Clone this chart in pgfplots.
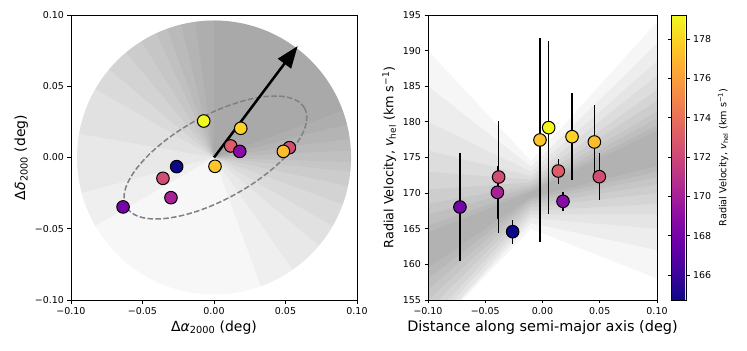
\documentclass[border=0pt]{standalone}
\usepackage{fontspec}
\setmainfont{DejaVu Sans}
\usepackage{pgfplots}
\usepackage{pgfplotstable}
\pgfplotsset{compat=1.18}
\usetikzlibrary{arrows.meta}

\pgfplotsset{colormap={plasma}{rgb255=(13,8,135) rgb255=(65,4,157) rgb255=(106,0,168)
  rgb255=(143,13,164) rgb255=(177,42,144) rgb255=(204,71,120) rgb255=(225,100,98)
  rgb255=(242,132,75) rgb255=(252,166,54) rgb255=(252,206,37) rgb255=(240,249,33)}}

% sky positions (deg) and velocities (km/s)
\pgfplotstableread{
ra       dec       v
-0.0636  -0.0347   168.05
-0.0301  -0.0282   170.11
-0.0357  -0.0146   172.26
-0.0261  -0.0064   164.59
 0.0007  -0.0062   177.46
-0.0072   0.0256   179.19
 0.0117   0.0081   173.10
 0.0180   0.0043   168.85
 0.0187   0.0205   177.92
 0.0527   0.0069   172.31
 0.0485   0.0043   177.18
}\posdata

% distance along semi-major axis, velocity, error
\pgfplotstableread{
d        v        err
-0.0721  168.05   7.6
-0.0383  172.26   7.8
-0.0394  170.11   3.75
-0.0261  164.59   1.7
-0.0022  177.46   14.3
 0.0054  179.19   12.1
 0.0138  173.10   1.75
 0.0179  168.85   1.3
 0.0258  177.92   6.1
 0.0453  177.18   5.2
 0.0496  172.31   3.3
}\veldata

% envelopes of the linear-fit samples: x=-0.1, waist, x=0.1 (upper), then x=0.1, waist, x=-0.1 (lower)
\pgfplotstableread{
hiL    hiW    hiR    loR    loW    loL
190    174.5  194    158    165    150
185    173.7  191    162    165.8  150
180    173    188.5  165    166.5  150
176    172.4  186.5  167    167    151
173    171.9  184.5  168.5  167.5  152
170.5  171.5  183    170    168    153.5
168.5  171.1  181.5  171.2  168.4  155
167    170.8  180.5  172.2  168.8  156.5
165.5  170.5  179.5  173    169.1  158
164.5  170.2  178.8  173.8  169.4  159.5
}\fitband

\newcommand{\tickfont}{\fontsize{9.5}{11}\selectfont}

\begin{document}
\begin{tikzpicture}
\useasboundingbox (0,0) rectangle (747bp,351bp);

% fan of position-angle samples, behind the left axis (axis origin at 214bp,193.5bp)
\begin{scope}[shift={(214bp,193.5bp)}]
\fill[black, fill opacity=0.032] (0,0) circle[radius=137bp];
\foreach \a/\b in {-70/210, -55/195, -40/170, -30/150, -20/140, -12/130,
                   -6/122, -2/115, 3/110, 8/104, 14/98, 20/90}
  \fill[black, fill opacity=0.032] (0,0) -- (\a:137bp) arc[start angle=\a, end angle=\b, radius=137bp] -- cycle;
\end{scope}

%---------------- left panel: positions ----------------
\begin{axis}[
  at={(71bp,51bp)}, anchor=south west,
  scale only axis, width=286bp, height=285bp,
  xmin=-0.1, xmax=0.1, ymin=-0.1, ymax=0.1,
  xtick={-0.1,-0.05,0,0.05,0.1}, ytick={-0.1,-0.05,0,0.05,0.1},
  xticklabels={−0.10,−0.05,0.00,0.05,0.10},
  yticklabels={−0.10,−0.05,0.00,0.05,0.10},
  tick pos=left, tick align=outside, major tick length=3.5bp,
  tick style={black, line width=0.8bp},
  axis line style={line width=0.8bp},
  ticklabel style={font=\tickfont},
  xlabel={Δ\textit{α}\textsubscript{2000} (deg)},
  ylabel={Δ\textit{δ}\textsubscript{2000} (deg)},
  label style={font=\fontsize{14}{16}\selectfont},
  colormap name=plasma, point meta min=164.73, point meta max=179.22,
]
% half-light ellipse
\draw[color={rgb,255:red,128;green,128;blue,128}, line width=1.5bp, dash pattern=on 5.5bp off 2.4bp,
  rotate around={29:(axis cs:0.001,0)}] (axis cs:0.001,0) ellipse[x radius=101.9bp, y radius=41.8bp];
% proper motion
\draw[black, line width=2.5bp, -{Triangle[length=22bp, width=16bp]}] (axis cs:0,0) -- (axis cs:0.0585,0.0782);
\addplot[scatter, only marks, mark=*, mark size=6.3bp, point meta=explicit,
  scatter/use mapped color={draw=black, fill=mapped color},
  mark options={line width=1bp}]
  table[x=ra, y=dec, meta=v] {\posdata};
\end{axis}

%---------------- right panel: velocity gradient ----------------
\begin{axis}[
  at={(428bp,51bp)}, anchor=south west,
  scale only axis, width=229bp, height=285bp,
  xmin=-0.1, xmax=0.1, ymin=155, ymax=195,
  xtick={-0.1,-0.05,0,0.05,0.1},
  xticklabels={−0.10,−0.05,0.00,0.05,0.10},
  ytick={155,160,...,195},
  yticklabels={155,160,165,170,175,180,185,190,195},
  tick pos=left, tick align=outside, major tick length=3.5bp,
  tick style={black, line width=0.8bp},
  axis line style={line width=0.8bp},
  ticklabel style={font=\tickfont},
  xlabel={Distance along semi-major axis (deg)},
  xlabel style={font=\fontsize{14.5}{16}\selectfont},
  ylabel={Radial Velocity, \textit{v}\textsubscript{hel} (km s\textsuperscript{−1})},
  ylabel style={font=\fontsize{12.8}{14}\selectfont},
  colormap name=plasma, point meta min=164.73, point meta max=179.22,
  colorbar,
  colorbar shift/.style={},
  colorbar style={
    at={(parent axis.north east)}, anchor=north west, xshift=14bp,
    scale only axis, width=15bp, height=285bp,
    ytick={166,168,...,178},
    yticklabels={166,168,170,172,174,176,178},
    tick align=outside, major tick length=3.5bp,
    tick style={black, line width=0.8bp},
    axis line style={line width=0.8bp},
    yticklabel style={font=\tickfont},
    ylabel={Radial Velocity, \textit{v}\textsubscript{hel} (km s\textsuperscript{−1})},
    ylabel style={font=\fontsize{9.7}{11}\selectfont},
  },
]
% spread of linear fits
\pgfplotsinvokeforeach{0,...,9}{
  \pgfplotstablegetelem{#1}{hiL}\of\fitband \let\hiL\pgfplotsretval
  \pgfplotstablegetelem{#1}{hiW}\of\fitband \let\hiW\pgfplotsretval
  \pgfplotstablegetelem{#1}{hiR}\of\fitband \let\hiR\pgfplotsretval
  \pgfplotstablegetelem{#1}{loR}\of\fitband \let\loR\pgfplotsretval
  \pgfplotstablegetelem{#1}{loW}\of\fitband \let\loW\pgfplotsretval
  \pgfplotstablegetelem{#1}{loL}\of\fitband \let\loL\pgfplotsretval
  \edef\temp{\noexpand\addplot[fill=black, fill opacity=0.035, draw=none] coordinates
    {(-0.1,\hiL) (-0.01,\hiW) (0.1,\hiR) (0.1,\loR) (-0.01,\loW) (-0.1,\loL)};}
  \temp
}
% error bars
\addplot[only marks, mark=none,
  error bars/.cd, y dir=both, y explicit, error mark=none,
  error bar style={draw=black, line width=1.5bp}]
  table[x=d, y=v, y error=err] {\veldata};
% data points
\addplot[scatter, only marks, mark=*, mark size=6.3bp, point meta=explicit,
  scatter/use mapped color={draw=black, fill=mapped color},
  mark options={line width=1bp}]
  table[x=d, y=v, meta=v] {\veldata};
\end{axis}
\end{tikzpicture}
\end{document}
